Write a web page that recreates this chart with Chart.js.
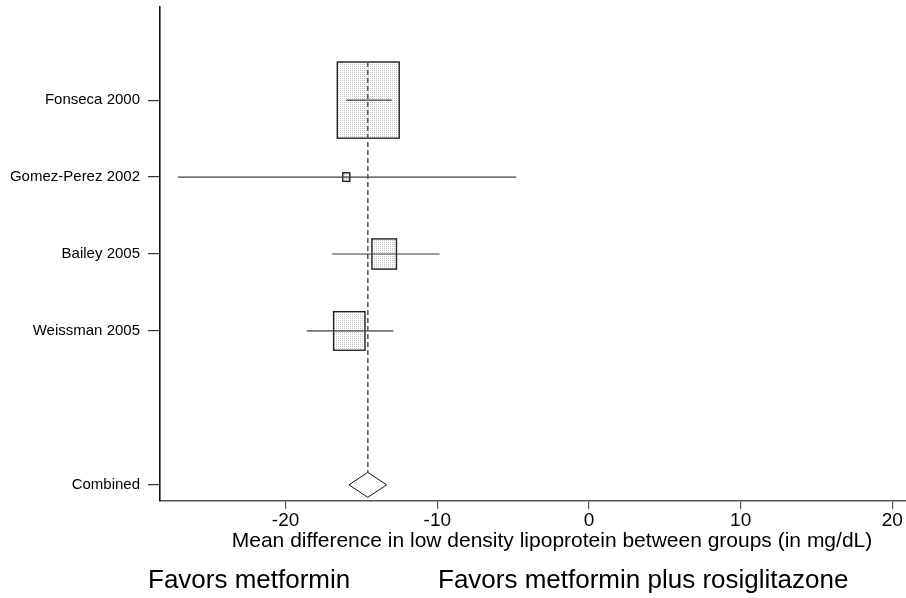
<!DOCTYPE html>
<html>
<head>
<meta charset="utf-8">
<title>Forest plot: LDL mean difference</title>
<script src="https://cdn.jsdelivr.net/npm/chart.js@4/dist/chart.umd.min.js"></script>
<style>
  html, body { margin: 0; padding: 0; background: #fff; }
  #wrap { width: 906px; height: 598px; }
</style>
</head>
<body>
<div id="wrap"><canvas id="forest" width="906" height="598"></canvas></div>
<script>
// Study-level results (mean difference in LDL, mg/dL, with 95% CI)
const studies  = ['Fonseca 2000', 'Gomez-Perez 2002', 'Bailey 2005', 'Weissman 2005'];
const meanDiff = [-14.55, -16.0, -13.5, -15.8];
const ciLow    = [-16.0, -27.1, -16.95, -18.6];
const ciHigh   = [-13.0, -4.8, -9.85, -12.9];
const weights  = [70, 0.9, 11, 18];          // percent weight of each study

// Pooled estimate
const combinedLabel = 'Combined';
const combinedMean  = -14.58;
const combinedLow   = -15.82;
const combinedHigh  = -13.34;

// Row labels down the y axis (blank row separates studies from the pooled result)
const rowLabels = [...studies, '', combinedLabel];

// x-axis ticks and texts
const xTicks = [-20, -10, 0, 10, 20];
const xTitle = 'Mean difference in low density lipoprotein between groups (in mg/dL)';
const favorLeft  = 'Favors metformin';
const favorRight = 'Favors metformin plus rosiglitazone';

const FONT = "'Liberation Sans', Arial, Helvetica, sans-serif";
Chart.defaults.font.family = FONT;
Chart.defaults.color = '#000';

// light stippled fill for the study boxes
function stipple() {
  const c = document.createElement('canvas');
  c.width = 2; c.height = 2;
  const g = c.getContext('2d');
  g.fillStyle = '#ffffff'; g.fillRect(0, 0, 2, 2);
  g.fillStyle = '#c4c4c4'; g.fillRect(0, 0, 1, 1);
  return g.createPattern(c, 'repeat');
}

const rowOf = i => i + 1;
const combinedRow = rowLabels.indexOf(combinedLabel) + 1;

// CI whiskers as two-point line datasets
const ciSets = studies.map((s, i) => ({
  type: 'line',
  label: s,
  data: [{ x: ciLow[i], y: rowOf(i) }, { x: ciHigh[i], y: rowOf(i) }],
  borderColor: '#3c3c3c',
  borderWidth: 1.2,
  pointRadius: 0,
  fill: false
}));

// box side (px) grows with the square root of the weight
const boxW = w => 7.4 * Math.sqrt(w);
const boxH = w => 1.23 * boxW(w);

const forestMarks = {
  id: 'forestMarks',
  beforeDatasetsDraw(chart) {
    const { ctx, scales: { x, y } } = chart;
    const pat = stipple();
    ctx.save();
    studies.forEach((s, i) => {
      const cx = x.getPixelForValue(meanDiff[i]);
      const cy = y.getPixelForValue(rowOf(i));
      const w = boxW(weights[i]), h = boxH(weights[i]);
      ctx.fillStyle = pat;
      ctx.fillRect(cx - w / 2, cy - h / 2, w, h);
      ctx.strokeStyle = '#222';
      ctx.lineWidth = 1.4;
      ctx.strokeRect(cx - w / 2, cy - h / 2, w, h);
    });
    ctx.restore();
  },
  afterDatasetsDraw(chart) {
    const { ctx, scales: { x, y } } = chart;
    const cx = x.getPixelForValue(combinedMean);
    const cy = y.getPixelForValue(combinedRow);
    const half = 12.5;
    const top = y.getPixelForValue(1) - boxH(weights[0]) / 2;
    ctx.save();
    // vertical reference line at the pooled estimate
    ctx.strokeStyle = '#555';
    ctx.lineWidth = 1.5;
    ctx.setLineDash([5, 3]);
    ctx.beginPath();
    ctx.moveTo(cx, top);
    ctx.lineTo(cx, cy - half);
    ctx.stroke();
    ctx.setLineDash([]);
    // pooled diamond
    ctx.beginPath();
    ctx.moveTo(x.getPixelForValue(combinedLow), cy);
    ctx.lineTo(cx, cy - half);
    ctx.lineTo(x.getPixelForValue(combinedHigh), cy);
    ctx.lineTo(cx, cy + half);
    ctx.closePath();
    ctx.fillStyle = '#fff';
    ctx.fill();
    ctx.strokeStyle = '#111';
    ctx.lineWidth = 1;
    ctx.stroke();
    ctx.restore();
  },
  afterDraw(chart) {
    const { ctx } = chart;
    ctx.save();
    ctx.fillStyle = '#000';
    ctx.textBaseline = 'alphabetic';
    ctx.font = '21px ' + FONT;
    ctx.textAlign = 'center';
    ctx.fillText(xTitle, 552, 546.5);
    ctx.font = '26px ' + FONT;
    ctx.textAlign = 'left';
    ctx.fillText(favorLeft, 148, 588);
    ctx.fillText(favorRight, 438, 588);
    ctx.restore();
  }
};

new Chart(document.getElementById('forest'), {
  type: 'scatter',
  data: { datasets: ciSets },
  options: {
    responsive: false,
    animation: false,
    layout: { padding: { top: 7, left: 0, right: 0, bottom: 0 } },
    plugins: { legend: { display: false }, tooltip: { enabled: false } },
    scales: {
      x: {
        type: 'linear',
        min: -28.28,
        max: 20.9,
        afterBuildTicks: s => { s.ticks = xTicks.map(v => ({ value: v })); },
        afterFit: s => { s.height = 97; s.paddingLeft = 0; s.paddingRight = 0; },
        ticks: { font: { size: 19 }, color: '#000', padding: 0, maxRotation: 0 },
        grid: { drawOnChartArea: false, tickLength: 8, tickColor: '#555', lineWidth: 1.2 },
        border: { color: '#555', width: 1.5 }
      },
      y: {
        type: 'linear',
        reverse: true,
        min: -0.21,
        max: 6.21,
        afterBuildTicks: s => {
          s.ticks = rowLabels
            .map((l, i) => ({ value: i + 1, label: l }))
            .filter(t => t.label !== '')
            .map(t => ({ value: t.value }));
        },
        afterFit: s => { s.width = 160; s.paddingTop = 0; s.paddingBottom = 0; },
        ticks: {
          autoSkip: false,
          font: { size: 15 },
          color: '#000',
          padding: 8,
          callback: v => rowLabels[Math.round(v) - 1] || ''
        },
        grid: { drawOnChartArea: false, tickLength: 12, tickColor: '#333', lineWidth: 1.2 },
        border: { color: '#111', width: 1.6 }
      }
    }
  },
  plugins: [forestMarks]
});
</script>
</body>
</html>
